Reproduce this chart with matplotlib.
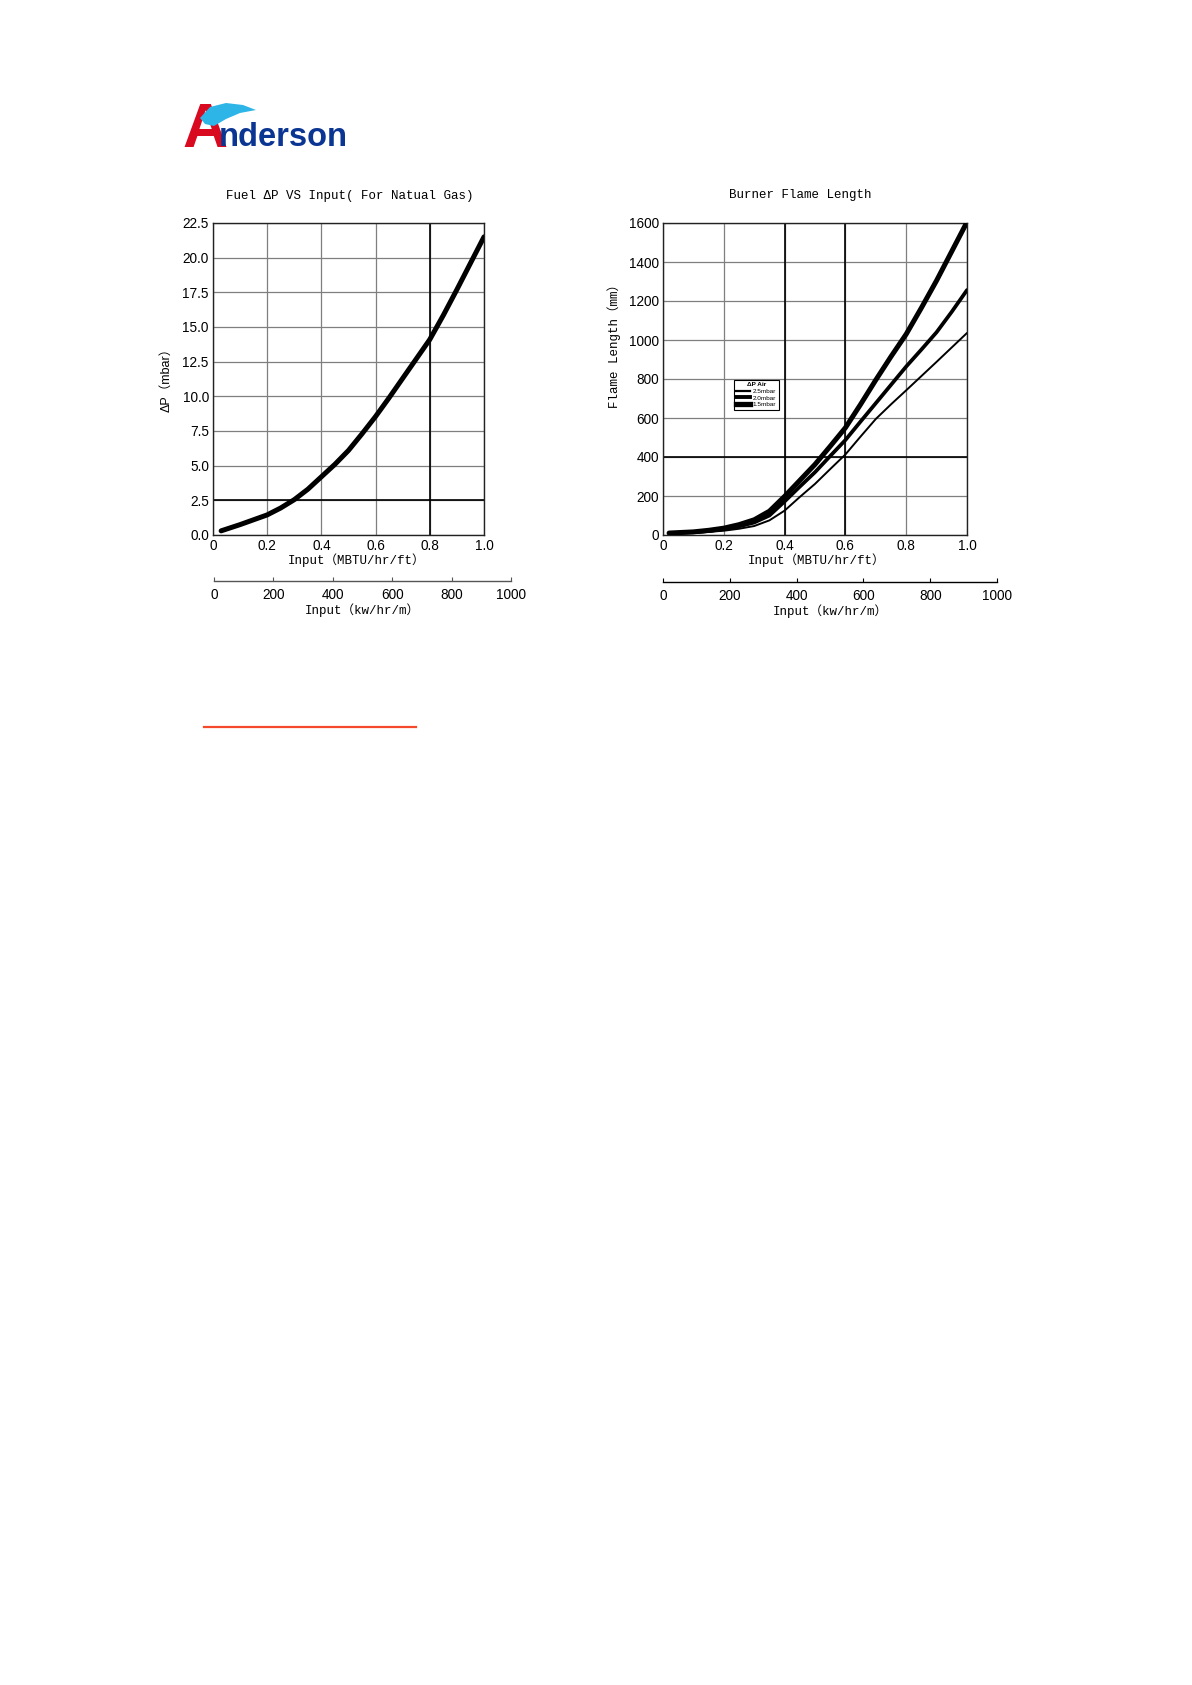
import matplotlib
matplotlib.use("Agg")
import matplotlib.pyplot as plt
from matplotlib.lines import Line2D
from matplotlib.patches import Polygon

# ---------------- data ----------------
fuel_input = [0.03, 0.1, 0.15, 0.2, 0.25, 0.3, 0.35, 0.4, 0.45, 0.5, 0.55, 0.6,
              0.65, 0.7, 0.75, 0.8, 0.85, 0.9, 0.95, 1.0]
fuel_dp = [0.3, 0.75, 1.1, 1.45, 1.95, 2.55, 3.3, 4.2, 5.1, 6.1, 7.3, 8.55,
           9.9, 11.3, 12.7, 14.1, 15.85, 17.7, 19.6, 21.5]

flame_input = [0.02, 0.1, 0.15, 0.2, 0.25, 0.3, 0.35, 0.4, 0.45, 0.5, 0.55, 0.6,
               0.65, 0.7, 0.75, 0.8, 0.85, 0.9, 0.95, 1.0]
flame_15 = [10, 16, 24, 35, 53, 78, 122, 198, 280, 362, 455, 550,
            670, 795, 915, 1030, 1165, 1305, 1455, 1605]
flame_20 = [9, 14, 20, 30, 44, 64, 100, 172, 248, 322, 405, 487,
            582, 676, 770, 864, 951, 1040, 1145, 1256]
flame_25 = [8, 11, 16, 22, 32, 46, 75, 125, 195, 262, 338, 413,
            505, 595, 670, 742, 815, 888, 962, 1036]
legend_labels = ["2.5mbar", "2.0mbar", "1.5mbar"]

x_ticks = [0, 0.2, 0.4, 0.6, 0.8, 1.0]
x_tick_labels = ["0", "0.2", "0.4", "0.6", "0.8", "1.0"]
dp_ticks = [0.0, 2.5, 5.0, 7.5, 10.0, 12.5, 15.0, 17.5, 20.0, 22.5]
flame_ticks = [0, 200, 400, 600, 800, 1000, 1200, 1400, 1600]
kw_ticks = [0, 200, 400, 600, 800, 1000]

W, H = 1192, 1685
fig = plt.figure(figsize=(W / 100, H / 100), dpi=100)
fig.patch.set_facecolor("white")

MONO = ["Liberation Mono", "Noto Sans CJK SC", "DejaVu Sans"]
SANS = ["Liberation Sans", "DejaVu Sans"]
TICK_FS = 9.8
LAB_FS = 9.0


def fx(px):
    return px / W


def fy(py):
    return 1 - py / H


def make_axes(l, r, t, b):
    return fig.add_axes([fx(l), fy(b), fx(r - l), (b - t) / H])


def style_main(ax, xt, yt, ylabels):
    ax.set_xticks(xt)
    ax.set_xticklabels(x_tick_labels, family=SANS, fontsize=TICK_FS)
    ax.set_yticks(yt)
    ax.set_yticklabels(ylabels, family=SANS, fontsize=TICK_FS)
    ax.tick_params(length=0, pad=3)
    ax.grid(True, color="#7f7f7f", linewidth=0.9)
    ax.set_axisbelow(True)
    for s in ax.spines.values():
        s.set_color("#222222")
        s.set_linewidth(1.0)


def secondary(l, r, y, color):
    sax = fig.add_axes([fx(l), fy(y), fx(r - l), 0.0001])
    sax.set_xlim(0, 1000)
    sax.set_yticks([])
    for k in ["top", "left", "right"]:
        sax.spines[k].set_visible(False)
    sax.spines["bottom"].set_color(color)
    sax.spines["bottom"].set_linewidth(1.0)
    sax.patch.set_alpha(0)
    sax.set_xticks(kw_ticks)
    sax.set_xticklabels([str(v) for v in kw_ticks], family=SANS, fontsize=TICK_FS)
    sax.tick_params(axis="x", direction="in", length=3, pad=5, color=color)
    return sax


# ---------------- left chart ----------------
ax1 = make_axes(213, 484, 223, 535)
ax1.set_xlim(0, 1.0)
ax1.set_ylim(0, 22.5)
style_main(ax1, x_ticks, dp_ticks, [f"{v:.1f}" for v in dp_ticks])
ax1.axvline(0.8, color="black", linewidth=1.2, zorder=1.5)
ax1.axhline(2.5, color="black", linewidth=1.2, zorder=1.5)
ax1.plot(fuel_input, fuel_dp, color="black", linewidth=3.6, solid_capstyle="round",
         solid_joinstyle="round", zorder=3)
ax1.set_xlabel("Input（MBTU/hr/ft）", family=MONO, fontsize=LAB_FS)
ax1.xaxis.set_label_coords((357 - 213) / 271, -(553 - 535) / 312)
ax1.set_ylabel("ΔP（mbar）", family=SANS + ["Noto Sans CJK SC"], fontsize=LAB_FS)
ax1.yaxis.set_label_coords((172 - 213) / 271, 0.506)
fig.text(fx(350), fy(196), "Fuel ΔP VS Input( For Natual Gas)", family=MONO,
         fontsize=LAB_FS, ha="center", va="center")

s1 = secondary(214, 511, 581, "#555555")
s1.set_xlabel("Input（kw/hr/m）", family=MONO, fontsize=LAB_FS, labelpad=1)

# ---------------- right chart ----------------
ax2 = make_axes(663, 967, 223, 535)
ax2.set_xlim(0, 1.0)
ax2.set_ylim(0, 1600)
style_main(ax2, x_ticks, flame_ticks, [str(v) for v in flame_ticks])
ax2.axvline(0.4, color="black", linewidth=1.2, zorder=1.5)
ax2.axvline(0.6, color="black", linewidth=1.2, zorder=1.5)
ax2.axhline(400, color="black", linewidth=1.2, zorder=1.5)
ax2.plot(flame_input, flame_25, color="black", linewidth=1.4, solid_capstyle="round",
         solid_joinstyle="round", zorder=3)
ax2.plot(flame_input, flame_20, color="black", linewidth=2.7, solid_capstyle="round",
         solid_joinstyle="round", zorder=3)
ax2.plot(flame_input, flame_15, color="black", linewidth=3.6, solid_capstyle="round",
         solid_joinstyle="round", zorder=3)
ax2.set_xlabel("Input（MBTU/hr/ft）", family=MONO, fontsize=LAB_FS)
ax2.xaxis.set_label_coords((817 - 663) / 304, -(553 - 535) / 312)
ax2.set_ylabel("Flame Length（mm）", family=MONO, fontsize=LAB_FS)
ax2.yaxis.set_label_coords((621 - 663) / 304, 0.615)
fig.text(fx(800), fy(195), "Burner Flame Length", family=MONO,
         fontsize=LAB_FS, ha="center", va="center")

hl = [Line2D([], [], color="black", linewidth=w) for w in (1.6, 2.8, 3.8)]
leg = ax2.legend(hl, legend_labels, title="ΔP Air", loc="upper left",
                 bbox_to_anchor=((734 - 663) / 304, (535 - 380) / 312),
                 prop={"family": SANS, "size": 4.6},
                 title_fontproperties={"family": SANS, "size": 4.6, "weight": "bold"},
                 frameon=True, fancybox=False, framealpha=1, edgecolor="black",
                 handlelength=2.2, handletextpad=0.4, borderpad=0.35, labelspacing=0.2,
                 borderaxespad=0)
leg.get_frame().set_linewidth(0.8)
leg.set_zorder(5)

s2 = secondary(663, 997, 582, "black")
s2.set_xlabel("Input（kw/hr/m）", family=MONO, fontsize=LAB_FS, labelpad=1)

# ---------------- logo & decoration ----------------
fig.text(fx(182), fy(147), "A", color="#d9091f", family=["Liberation Sans", "DejaVu Sans"],
         fontsize=45, fontweight="bold", ha="left", va="baseline", zorder=3)
swoosh = Polygon([[fx(200), fy(118)], [fx(210), fy(107)], [fx(226), fy(103)],
                  [fx(243), fy(105)], [fx(256), fy(110)], [fx(240), fy(113)],
                  [fx(226), fy(119)], [fx(214), fy(126)], [fx(205), fy(124)]],
                 closed=True, transform=fig.transFigure, facecolor="#2cb5e6",
                 edgecolor="none", zorder=4)
fig.patches.append(swoosh)
fig.text(fx(219), fy(146), "nderson", color="#0b3593",
         family=["Liberation Sans", "DejaVu Sans"],
         fontsize=23.5, fontweight="bold", ha="left", va="baseline")

fig.add_artist(Line2D([fx(204), fx(416)], [fy(727), fy(727)], color="#f4492b",
                      linewidth=1.6, transform=fig.transFigure))

fig.savefig("out.png", dpi=100, facecolor="white")
